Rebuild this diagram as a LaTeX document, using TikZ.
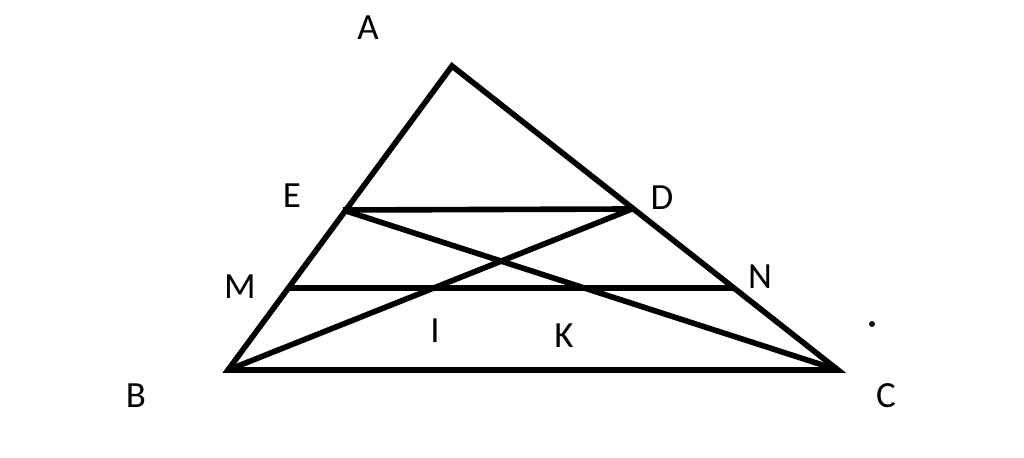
\documentclass[tikz,border=0pt]{standalone}
\usepackage{fontspec}
\setmainfont{Carlito}
\usetikzlibrary{positioning}

\begin{document}
\begin{tikzpicture}[x=0.01cm,y=-0.01cm,line width=1.6pt,
	pt label/.style={font=\fontsize{10.5}{12}\selectfont,inner sep=0pt}]
	
	\useasboundingbox (0,0) rectangle (1024,458);
	
	\coordinate (A) at (452,66);
	\coordinate (B) at (228,370);
	\coordinate (C) at (838,370);
	\coordinate (E) at (343,210);
	\coordinate (D) at (632,209);
	\coordinate (M) at (288,288);
	\coordinate (N) at (735,288);
	\coordinate (I) at (intersection of B--D and M--N);
	\coordinate (K) at (intersection of E--C and M--N);
	
	\draw (A) -- (B) -- (C) -- cycle;
	\draw (E) -- (D);
	\draw (M) -- (N);
	\draw (B) -- (D);
	\draw (E) -- (C);
	
	\node[pt label] (lA) at (368,28) {A};
	\node[pt label] (lB) at (136,396) {B};
	\node[pt label] (lC) at (886,396) {C};
	\node[pt label] (lE) at (292,196) {E};
	\node[pt label] (lD) at (662,198) {D};
	\node[pt label] (lM) at (240,287) {M};
	\node[pt label] (lN) at (760,277) {N};
	\node[pt label] (lI) at (435,331) {I};
	\node[pt label] (lK) at (564,336) {K};
	
	\fill (872,324) circle (3);
\end{tikzpicture}
\end{document}
